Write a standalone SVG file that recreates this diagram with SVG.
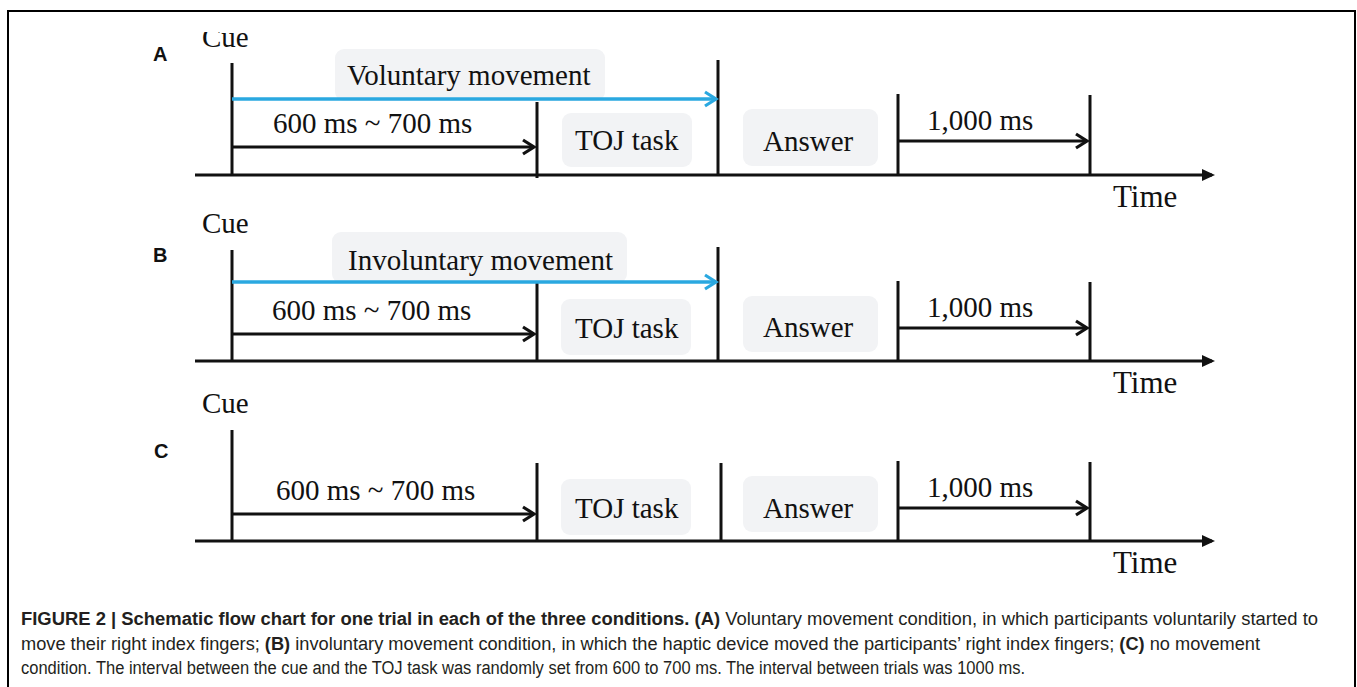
<svg xmlns="http://www.w3.org/2000/svg" width="1357" height="687" viewBox="0 0 1357 687">
<style>
.t{font-family:"Liberation Serif","Times New Roman",serif;font-size:29px;fill:#111}
.time{font-size:31px}
.pl{font-family:"Liberation Sans",Arial,sans-serif;font-size:20px;font-weight:bold;fill:#111}
.box{fill:#F2F3F5;stroke:none}
.k{stroke:#111;stroke-width:3;fill:none}
.blue{stroke:#2AA8E0;stroke-width:3.5;fill:none}
.cap{font-family:"Liberation Sans",Arial,sans-serif;font-size:18px;fill:#231F20}
.b{font-weight:bold}
</style>
<defs>
<marker id="chev" markerUnits="userSpaceOnUse" markerWidth="24" markerHeight="24" viewBox="-16 -12 24 24" refX="0" refY="0" orient="auto" overflow="visible"><path d="M-11,-7 L0,0 L-11,7" fill="none" stroke="#111" stroke-width="3.2"/></marker>
<marker id="chevb" markerUnits="userSpaceOnUse" markerWidth="24" markerHeight="24" viewBox="-16 -12 24 24" refX="0" refY="0" orient="auto" overflow="visible"><path d="M-11,-7 L0,0 L-11,7" fill="none" stroke="#2AA8E0" stroke-width="3.2"/></marker>
<marker id="tri" markerUnits="userSpaceOnUse" markerWidth="24" markerHeight="24" viewBox="-16 -12 24 24" refX="0" refY="0" orient="auto" overflow="visible"><path d="M-10,-6 L3,0 L-10,6 Z" fill="#111"/></marker>
<clipPath id="topclip"><rect x="0" y="32" width="1357" height="655"/></clipPath>
</defs>
<rect width="1357" height="687" fill="#fff"/>
<rect x="8" y="11" width="1347" height="700" fill="none" stroke="#000" stroke-width="2"/>

<!-- Panel A -->
<g id="panelA">
<g id="A-label"><text class="pl" x="153" y="61">A</text></g>
<g id="A-cue"><text class="t" x="202" y="47" clip-path="url(#topclip)">Cue</text></g>
<g id="A-move"><rect class="box" x="335" y="49" width="270" height="52" rx="9"/><text class="t" x="347" y="85">Voluntary movement</text></g>
<g id="A-interval"><text class="t" x="273" y="133">600 ms ~ 700 ms</text></g>
<g id="A-toj"><rect class="box" x="562" y="113" width="130" height="54" rx="9"/><text class="t" x="575" y="150">TOJ task</text></g>
<g id="A-answer"><rect class="box" x="743" y="109" width="135" height="57" rx="9"/><text class="t" x="763" y="151">Answer</text></g>
<g id="A-iti"><text class="t" x="927" y="130">1,000 ms</text></g>
<g id="A-time"><text class="t time" x="1113" y="207">Time</text></g>
</g>

<!-- Panel B -->
<g id="panelB">
<g id="B-label"><text class="pl" x="153" y="262">B</text></g>
<g id="B-cue"><text class="t" x="202" y="233">Cue</text></g>
<g id="B-move"><rect class="box" x="332" y="232" width="295" height="51" rx="9"/><text class="t" x="348" y="270">Involuntary movement</text></g>
<g id="B-interval"><text class="t" x="272" y="320">600 ms ~ 700 ms</text></g>
<g id="B-toj"><rect class="box" x="561" y="299" width="130" height="56" rx="9"/><text class="t" x="575" y="338">TOJ task</text></g>
<g id="B-answer"><rect class="box" x="743" y="296" width="135" height="56" rx="9"/><text class="t" x="763" y="337">Answer</text></g>
<g id="B-iti"><text class="t" x="927" y="317">1,000 ms</text></g>
<g id="B-time"><text class="t time" x="1113" y="393">Time</text></g>
</g>

<!-- Panel C -->
<g id="panelC">
<g id="C-label"><text class="pl" x="154" y="458">C</text></g>
<g id="C-cue"><text class="t" x="202" y="413">Cue</text></g>
<g id="C-interval"><text class="t" x="276" y="500">600 ms ~ 700 ms</text></g>
<g id="C-toj"><rect class="box" x="561" y="479" width="130" height="56" rx="9"/><text class="t" x="575" y="518">TOJ task</text></g>
<g id="C-answer"><rect class="box" x="743" y="476" width="135" height="56" rx="9"/><text class="t" x="763" y="518">Answer</text></g>
<g id="C-iti"><text class="t" x="927" y="497">1,000 ms</text></g>
<g id="C-time"><text class="t time" x="1113" y="573">Time</text></g>
</g>

<g id="connectors">
<!-- A -->
<line class="k" x1="195" y1="175" x2="1212" y2="175" marker-end="url(#tri)"/>
<line class="k" x1="232" y1="63" x2="232" y2="175"/>
<line class="k" x1="537" y1="102" x2="537" y2="178"/>
<line class="k" x1="718" y1="60" x2="718" y2="175"/>
<line class="k" x1="898" y1="94" x2="898" y2="175"/>
<line class="k" x1="1090" y1="95" x2="1090" y2="175"/>
<line class="blue" x1="232" y1="99" x2="716" y2="99" marker-end="url(#chevb)"/>
<line class="k" x1="232" y1="147" x2="534" y2="147" marker-end="url(#chev)"/>
<line class="k" x1="898" y1="141" x2="1087" y2="141" marker-end="url(#chev)"/>
<!-- B -->
<line class="k" x1="195" y1="361" x2="1212" y2="361" marker-end="url(#tri)"/>
<line class="k" x1="232" y1="250" x2="232" y2="361"/>
<line class="k" x1="537" y1="283" x2="537" y2="360"/>
<line class="k" x1="718" y1="247" x2="718" y2="361"/>
<line class="k" x1="898" y1="281" x2="898" y2="361"/>
<line class="k" x1="1090" y1="282" x2="1090" y2="361"/>
<line class="blue" x1="232" y1="282" x2="716" y2="282" marker-end="url(#chevb)"/>
<line class="k" x1="232" y1="334" x2="534" y2="334" marker-end="url(#chev)"/>
<line class="k" x1="898" y1="328" x2="1087" y2="328" marker-end="url(#chev)"/>
<!-- C -->
<line class="k" x1="195" y1="541" x2="1212" y2="541" marker-end="url(#tri)"/>
<line class="k" x1="232" y1="430" x2="232" y2="541"/>
<line class="k" x1="537" y1="463" x2="537" y2="542"/>
<line class="k" x1="721" y1="463" x2="721" y2="541"/>
<line class="k" x1="898" y1="461" x2="898" y2="541"/>
<line class="k" x1="1090" y1="462" x2="1090" y2="541"/>
<line class="k" x1="232" y1="514" x2="534" y2="514" marker-end="url(#chev)"/>
<line class="k" x1="898" y1="508" x2="1087" y2="508" marker-end="url(#chev)"/>
</g>

<g id="caption">
<text class="cap" x="21" y="625" textLength="1297" lengthAdjust="spacingAndGlyphs"><tspan class="b">FIGURE 2 | Schematic flow chart for one trial in each of the three conditions. (A)</tspan> Voluntary movement condition, in which participants voluntarily started to</text>
<text class="cap" x="21" y="650" textLength="1239" lengthAdjust="spacingAndGlyphs">move their right index fingers; <tspan class="b">(B)</tspan> involuntary movement condition, in which the haptic device moved the participants’ right index fingers; <tspan class="b">(C)</tspan> no movement</text>
<text class="cap" x="21" y="674" textLength="1004" lengthAdjust="spacingAndGlyphs">condition. The interval between the cue and the TOJ task was randomly set from 600 to 700 ms. The interval between trials was 1000 ms.</text>
</g>
</svg>
